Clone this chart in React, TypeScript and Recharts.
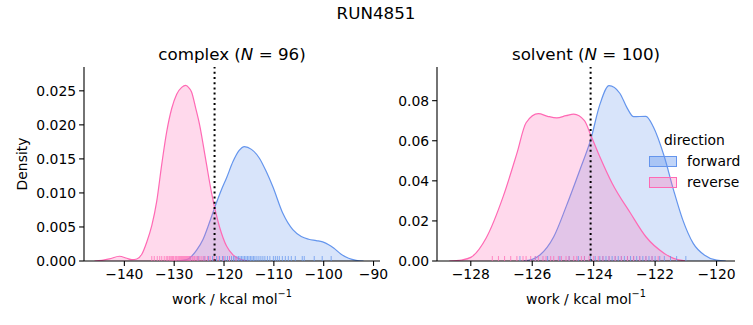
import React from 'react';
import { ComposedChart, Area, XAxis, YAxis, Scatter, ReferenceLine, Legend } from 'recharts';

const FWD = '#6495ED';
const REV = '#FF69B4';
const FONT = '"DejaVu Sans", sans-serif';
const FS = 13.9;

const suptitle = 'RUN4851';
const directions = ['forward', 'reverse'];

// complex panel
const complexN = 96;
const complexRefLine = -121.9;
const complexXTicks = [-140, -130, -120, -110, -100, -90];
const complexYTicks = [0, 0.005, 0.01, 0.015, 0.02, 0.025];
const complexRevX = [-146.0, -144.5, -143.0, -141.0, -139.5, -138.5, -137.5, -136.5, -135.5, -134.5, -133.5, -132.5, -131.5, -130.5, -129.5, -128.5, -127.7, -127.0, -126.5, -125.7, -124.9, -123.7, -122.5, -120.9, -119.5, -118.2, -116.5, -115.0];
const complexRevD = [0, 0.0001, 0.0003, 0.0007, 0.0004, 0.0002, 0.0003, 0.001, 0.0028, 0.0052, 0.0088, 0.0142, 0.019, 0.0224, 0.0245, 0.0255, 0.0258, 0.0254, 0.0248, 0.0225, 0.02, 0.015, 0.01, 0.005, 0.0022, 0.0009, 0.0002, 0];
const complexFwdX = [-129.5, -127.5, -125.5, -124.2, -123.0, -121.9, -120.5, -119.5, -118.2, -117.0, -115.9, -114.5, -112.9, -111.5, -110.2, -108.2, -106.2, -104.5, -103.0, -101.5, -100.2, -99.0, -98.0, -96.5, -95.0, -93.5, -92.0];
const complexFwdD = [0, 0.0002, 0.0016, 0.0032, 0.0055, 0.0078, 0.0105, 0.0122, 0.0146, 0.0162, 0.0168, 0.0164, 0.0151, 0.0131, 0.0109, 0.007, 0.0046, 0.0036, 0.0032, 0.003, 0.0028, 0.0024, 0.0019, 0.001, 0.0004, 0.0001, 0];
const complexRugRev = [-134.5, -134.0, -133.4, -132.9, -132.5, -132.0, -131.6, -131.3, -131.0, -130.8, -130.5, -130.3, -130.1, -129.8, -129.6, -129.4, -129.1, -128.9, -128.7, -128.5, -128.3, -128.1, -127.9, -127.7, -127.5, -127.3, -127.1, -126.9, -126.7, -126.4, -126.2, -125.9, -125.6, -125.3, -125.0, -124.6, -124.2, -123.8, -123.3, -122.8, -122.0, -121.2, -120.1, -118.9, -117.6];
const complexRugFwd = [-126.8, -125.2, -124.0, -123.1, -122.3, -121.5, -120.9, -120.3, -119.8, -119.3, -118.9, -118.5, -118.1, -117.8, -117.4, -117.1, -116.8, -116.5, -116.2, -115.9, -115.6, -115.3, -115.0, -114.7, -114.4, -114.1, -113.8, -113.4, -113.0, -112.6, -112.2, -111.8, -111.3, -110.8, -110.1, -109.7, -109.3, -108.9, -108.3, -107.7, -107.1, -106.5, -105.7, -104.3, -103.9, -101.9, -100.3, -98.5];

// solvent panel
const solventN = 100;
const solventRefLine = -124.1;
const solventXTicks = [-128, -126, -124, -122, -120];
const solventYTicks = [0, 0.02, 0.04, 0.06, 0.08];
const solventRevX = [-128.7, -128.3, -128.0, -127.5, -126.95, -126.5, -126.2, -125.8, -125.5, -125.2, -124.9, -124.65, -124.3, -124.1, -123.8, -123.4, -122.8, -122.3, -121.7, -121.4, -121.0];
const solventRevD = [0, 0.0005, 0.0018, 0.0115, 0.032, 0.0537, 0.069, 0.0735, 0.0722, 0.0714, 0.0725, 0.0733, 0.07, 0.063, 0.052, 0.0388, 0.0238, 0.0121, 0.0038, 0.0013, 0];
const solventFwdX = [-126.3, -126.0, -125.75, -125.3, -124.9, -124.45, -124.1, -123.8, -123.5, -123.15, -122.9, -122.7, -122.3, -122.06, -121.7, -121.4, -121.1, -120.76, -120.4, -120.0, -119.7];
const solventFwdD = [0, 0.0008, 0.003, 0.0121, 0.027, 0.0454, 0.0604, 0.078, 0.0875, 0.0837, 0.076, 0.072, 0.0722, 0.067, 0.052, 0.0354, 0.0205, 0.0088, 0.003, 0.0004, 0];
const solventRugRev = [-127.3, -127.1, -126.9, -126.7, -126.5, -126.3, -126.2, -126.05, -125.9, -125.8, -125.65, -125.55, -125.4, -125.3, -125.15, -125.05, -124.9, -124.8, -124.65, -124.55, -124.4, -124.3, -124.15, -124.0, -123.85, -123.7, -123.5, -123.3, -123.1, -122.9, -122.7, -122.5, -122.3, -122.1, -121.9];
const solventRugFwd = [-126.4, -125.9, -125.5, -125.1, -124.8, -124.5, -124.3, -124.1, -123.95, -123.8, -123.7, -123.6, -123.5, -123.4, -123.3, -123.2, -123.1, -123.0, -122.9, -122.8, -122.7, -122.6, -122.5, -122.4, -122.3, -122.2, -122.1, -122.0, -121.85, -121.7, -121.5, -121.3, -121.0];

function merge(fx: number[], fd: number[], rx: number[], rd: number[]) {
  const m = new Map<number, any>();
  fx.forEach((x, i) => { m.set(x, { ...(m.get(x) || { x }), fwd: fd[i] }); });
  rx.forEach((x, i) => { m.set(x, { ...(m.get(x) || { x }), rev: rd[i] }); });
  return Array.from(m.values()).sort((a, b) => a.x - b.x);
}
const rug = (xs: number[]) => xs.map((x) => ({ x, y: 0 }));

const fmtX = (v: number) => (v < 0 ? '\u2212' + Math.abs(v) : String(v));

const makeRug = (color: string) => (p: any) => (
  <line x1={p.cx} x2={p.cx} y1={p.cy} y2={p.cy - 5} stroke={color} strokeWidth={1} strokeOpacity={0.75} />
);

const tickStyle = { fill: '#000', fontSize: FS, fontFamily: FONT };

function LegendBox() {
  return (
    <div style={{ fontFamily: FONT, fontSize: FS, color: '#000', width: 110, position: 'relative', height: 70 }}>
      <div style={{ position: 'absolute', left: 15, top: 0 }}>direction</div>
      {directions.map((d, i) => (
        <div key={d} style={{ position: 'absolute', left: 0, top: 21 + i * 21, display: 'flex', alignItems: 'center' }}>
          <span style={{ display: 'inline-block', width: 26, height: 9, border: `1px solid ${i === 0 ? FWD : REV}`, background: i === 0 ? 'rgba(100,149,237,0.4)' : 'rgba(255,105,180,0.3)', marginRight: 10 }} />
          <span>{d}</span>
        </div>
      ))}
    </div>
  );
}

interface PanelProps {
  data: any[];
  rugF: number[];
  rugR: number[];
  xDomain: [number, number];
  yDomain: [number, number];
  xTicks: number[];
  yTicks: number[];
  yDigits: number;
  refX: number;
  width: number;
  margin: any;
  yWidth: number;
  legend?: boolean;
}

function Panel(p: PanelProps) {
  return (
    <ComposedChart width={p.width} height={325} data={p.data} margin={p.margin}>
      <XAxis
        type="number"
        dataKey="x"
        domain={p.xDomain}
        allowDataOverflow
        ticks={p.xTicks}
        interval={0}
        tickFormatter={fmtX}
        tick={tickStyle}
        tickSize={4.9}
        tickMargin={3}
        axisLine={{ stroke: '#000', strokeWidth: 1.1 }}
        tickLine={{ stroke: '#000', strokeWidth: 1.1 }}
        height={40}
      />
      <YAxis
        type="number"
        domain={p.yDomain}
        allowDataOverflow
        ticks={p.yTicks}
        interval={0}
        tickFormatter={(v: number) => v.toFixed(p.yDigits)}
        tick={tickStyle}
        tickSize={4.9}
        tickMargin={3}
        axisLine={{ stroke: '#000', strokeWidth: 1.1 }}
        tickLine={{ stroke: '#000', strokeWidth: 1.1 }}
        width={p.yWidth}
      />
      <Area type="monotone" dataKey="fwd" stroke={FWD} strokeWidth={1.2} fill={FWD} fillOpacity={0.25} connectNulls isAnimationActive={false} dot={false} activeDot={false} />
      <Area type="monotone" dataKey="rev" stroke={REV} strokeWidth={1.2} fill={REV} fillOpacity={0.25} connectNulls isAnimationActive={false} dot={false} activeDot={false} />
      <Scatter data={rug(p.rugF)} dataKey="y" shape={makeRug(FWD)} isAnimationActive={false} />
      <Scatter data={rug(p.rugR)} dataKey="y" shape={makeRug(REV)} isAnimationActive={false} />
      <ReferenceLine x={p.refX} stroke="#000" strokeWidth={2} strokeDasharray="2 3.2" />
      {p.legend && (
        <Legend
          layout="vertical"
          align="center"
          verticalAlign="middle"
          content={() => <LegendBox />}
          wrapperStyle={{ position: 'absolute', left: 259, top: 132, width: 110 }}
        />
      )}
    </ComposedChart>
  );
}

export default function App() {
  const complexData = merge(complexFwdX, complexFwdD, complexRevX, complexRevD);
  const solventData = merge(solventFwdX, solventFwdD, solventRevX, solventRevD);
  return (
    <div style={{ position: 'absolute', left: 0, top: 0, width: 753, height: 325, background: '#fff', fontFamily: FONT }}>
      <div style={{ position: 'absolute', left: 0, top: 0 }}>
        <Panel
          data={complexData}
          rugF={complexRugFwd}
          rugR={complexRugRev}
          xDomain={[-148.1, -88.7]}
          yDomain={[0, 0.0285]}
          xTicks={complexXTicks}
          yTicks={complexYTicks}
          yDigits={3}
          refX={complexRefLine}
          width={400}
          margin={{ top: 67, right: 20, left: 24, bottom: 24 }}
          yWidth={60}
        />
      </div>
      <div style={{ position: 'absolute', left: 390, top: 0 }}>
        <Panel
          data={solventData}
          rugF={solventRugFwd}
          rugR={solventRugRev}
          xDomain={[-129.1, -119.4]}
          yDomain={[0, 0.0968]}
          xTicks={solventXTicks}
          yTicks={solventYTicks}
          yDigits={2}
          refX={solventRefLine}
          width={363}
          margin={{ top: 67, right: 18, left: 2, bottom: 24 }}
          yWidth={45}
          legend
        />
      </div>
      <svg width={753} height={325} style={{ position: 'absolute', left: 0, top: 0, pointerEvents: 'none' }}>
        <g fontFamily={FONT} fill="#000">
          <text x={376} y={13} fontSize={16.7} textAnchor="middle" dominantBaseline="central">{suptitle}</text>
          <text x={232} y={54} fontSize={16.7} textAnchor="middle" dominantBaseline="central">
            complex (<tspan fontStyle="italic">N</tspan> = {complexN})
          </text>
          <text x={586} y={54} fontSize={16.7} textAnchor="middle" dominantBaseline="central">
            solvent (<tspan fontStyle="italic">N</tspan> = {solventN})
          </text>
          <text x={232} y={299} fontSize={FS} textAnchor="middle" dominantBaseline="central">
            work / kcal mol<tspan dy={-6} fontSize={FS * 0.7}>{'\u22121'}</tspan>
          </text>
          <text x={586} y={299} fontSize={FS} textAnchor="middle" dominantBaseline="central">
            work / kcal mol<tspan dy={-6} fontSize={FS * 0.7}>{'\u22121'}</tspan>
          </text>
          <text x={22} y={164} fontSize={FS} textAnchor="middle" dominantBaseline="central" transform="rotate(-90 22 164)">Density</text>
        </g>
      </svg>
    </div>
  );
}
